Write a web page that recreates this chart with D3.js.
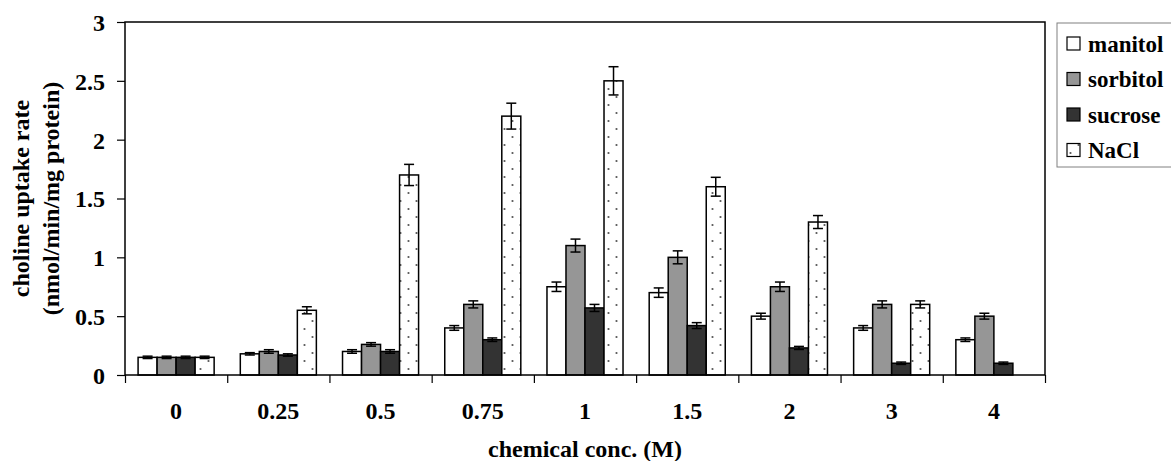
<!DOCTYPE html>
<html>
<head>
<meta charset="utf-8">
<script src="https://cdn.jsdelivr.net/npm/d3@7"></script>
<style>
    body { margin: 0; background: #fff; }
    svg text { font-family: "Liberation Serif", "Times New Roman", serif; font-weight: bold; fill: #000; }
</style>
</head>
<body>
<svg width="1171" height="461"></svg>
<script>
const categories = ["0", "0.25", "0.5", "0.75", "1", "1.5", "2", "3", "4"];
const seriesNames = ["manitol", "sorbitol", "sucrose", "NaCl"];

const manitol = [0.15, 0.18, 0.20, 0.40, 0.75, 0.70, 0.50, 0.40, 0.30];
const sorbitol = [0.15, 0.20, 0.26, 0.60, 1.10, 1.00, 0.75, 0.60, 0.50];
const sucrose = [0.15, 0.17, 0.20, 0.30, 0.57, 0.42, 0.23, 0.10, 0.10];
const nacl = [0.15, 0.55, 1.70, 2.20, 2.50, 1.60, 1.30, 0.60, null];

const manitolErr = [0.01, 0.01, 0.015, 0.02, 0.04, 0.04, 0.025, 0.02, 0.015];
const sorbitolErr = [0.01, 0.015, 0.015, 0.03, 0.055, 0.055, 0.04, 0.03, 0.025];
const sucroseErr = [0.01, 0.01, 0.015, 0.015, 0.03, 0.025, 0.013, 0.01, 0.01];
const naclErr = [0.01, 0.03, 0.09, 0.11, 0.12, 0.08, 0.055, 0.03, null];

const yTicks = [0, 0.5, 1, 1.5, 2, 2.5, 3];

const values = {manitol: manitol, sorbitol: sorbitol, sucrose: sucrose, NaCl: nacl};
const errors = {manitol: manitolErr, sorbitol: sorbitolErr, sucrose: sucroseErr, NaCl: naclErr};

const fills = {
    manitol: "#ffffff",
    sorbitol: "#969696",
    sucrose: "#333333",
    NaCl: "url(#dots)"
};

let svg = d3.select("svg"),
    margin = {top: 22, right: 126, bottom: 86, left: 125},
    width = +svg.attr("width") - margin.left - margin.right,
    height = +svg.attr("height") - margin.top - margin.bottom,
    g = svg.append("g").attr("transform", "translate(" + margin.left + "," + margin.top + ")");

// dotted fill for NaCl
let pattern = svg.append("defs").append("pattern")
    .attr("id", "dots")
    .attr("patternUnits", "userSpaceOnUse")
    .attr("width", 16)
    .attr("height", 16);
pattern.append("rect").attr("width", 16).attr("height", 16).attr("fill", "#fff");
pattern.append("circle").attr("cx", 3.5).attr("cy", 3).attr("r", 1.1).attr("fill", "#555");
pattern.append("circle").attr("cx", 11.5).attr("cy", 11).attr("r", 1.1).attr("fill", "#555");

let x0 = d3.scaleBand()
    .domain(categories)
    .range([0, width])
    .paddingInner(0.256)
    .paddingOuter(0.128);

let x1 = d3.scaleBand()
    .domain(seriesNames)
    .range([0, x0.bandwidth()]);

let y = d3.scaleLinear()
    .domain([0, 3])
    .range([height, 0]);

let rows = [];
categories.forEach((c, i) => {
    seriesNames.forEach(s => {
        if (values[s][i] != null) {
            rows.push({cat: c, key: s, value: values[s][i], err: errors[s][i]});
        }
    });
});

// bars
g.selectAll(".bar")
    .data(rows)
    .enter().append("rect")
    .attr("class", "bar")
    .attr("x", d => x0(d.cat) + x1(d.key))
    .attr("y", d => y(d.value))
    .attr("width", x1.bandwidth())
    .attr("height", d => y(0) - y(d.value))
    .attr("fill", d => fills[d.key])
    .attr("stroke", "#000")
    .attr("stroke-width", 1.5);

// error bars
let eb = g.selectAll(".err")
    .data(rows)
    .enter().append("g")
    .attr("class", "err")
    .attr("transform", d => "translate(" + (x0(d.cat) + x1(d.key) + x1.bandwidth() / 2) + ",0)")
    .attr("stroke", "#000")
    .attr("stroke-width", 1.5);

eb.append("line")
    .attr("y1", d => y(d.value + d.err))
    .attr("y2", d => y(d.value - d.err));
eb.append("line")
    .attr("x1", -5).attr("x2", 5)
    .attr("y1", d => y(d.value + d.err))
    .attr("y2", d => y(d.value + d.err));
eb.append("line")
    .attr("x1", -5).attr("x2", 5)
    .attr("y1", d => y(d.value - d.err))
    .attr("y2", d => y(d.value - d.err));

// plot frame
g.append("rect")
    .attr("width", width)
    .attr("height", height)
    .attr("fill", "none")
    .attr("stroke", "#000")
    .attr("stroke-width", 1.5);

// y axis
let yAxis = g.append("g")
    .call(d3.axisLeft(y).tickValues(yTicks).tickSize(8).tickPadding(12).tickFormat(d => String(d)));
yAxis.select(".domain").remove();
yAxis.selectAll("line").attr("stroke", "#000").attr("stroke-width", 1.2);
yAxis.selectAll("text").style("font-size", "24px").attr("dy", "0.35em");

// x axis ticks at group boundaries
let xb = d3.scaleLinear().domain([0, categories.length]).range([0, width]);
let xTicks = g.append("g")
    .attr("transform", "translate(0," + height + ")")
    .call(d3.axisBottom(xb).tickValues(d3.range(categories.length + 1)).tickSize(8).tickFormat(""));
xTicks.select(".domain").remove();
xTicks.selectAll("line").attr("stroke", "#000").attr("stroke-width", 1.2);

let xAxis = g.append("g")
    .attr("transform", "translate(0," + height + ")")
    .call(d3.axisBottom(x0).tickSize(0).tickPadding(27));
xAxis.select(".domain").remove();
xAxis.selectAll("text").style("font-size", "24px");

// axis titles
svg.append("text")
    .attr("x", margin.left + width / 2)
    .attr("y", 457)
    .attr("text-anchor", "middle")
    .style("font-size", "24px")
    .text("chemical conc. (M)");

let yTitle = svg.append("text")
    .attr("transform", "translate(0," + (margin.top + height / 2) + ") rotate(-90)")
    .attr("text-anchor", "middle")
    .style("font-size", "24px");
yTitle.append("tspan").attr("x", 0).attr("y", 29).text("choline uptake rate");
yTitle.append("tspan").attr("x", 0).attr("y", 59).text("(nmol/min/mg protein)");

// legend
let legend = svg.append("g").attr("transform", "translate(1057,23)");
legend.append("rect")
    .attr("width", 130)
    .attr("height", 144)
    .attr("fill", "#fff")
    .attr("stroke", "#808080")
    .attr("stroke-width", 1);

let item = legend.selectAll(".item")
    .data(seriesNames)
    .enter().append("g")
    .attr("class", "item")
    .attr("transform", (d, i) => "translate(10," + (20.5 + i * 35.5) + ")");

item.append("rect")
    .attr("x", 0)
    .attr("y", -6.5)
    .attr("width", 13)
    .attr("height", 13)
    .attr("fill", d => fills[d])
    .attr("stroke", "#000")
    .attr("stroke-width", 1.2);

item.append("text")
    .attr("x", 21)
    .attr("dy", "0.35em")
    .style("font-size", "23px")
    .text(d => d);
</script>
</body>
</html>
